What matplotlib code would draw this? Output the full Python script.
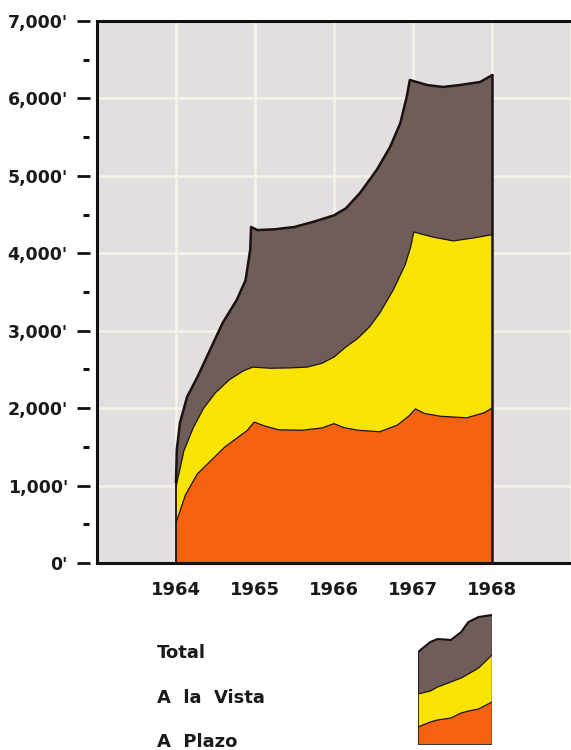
import matplotlib
matplotlib.use('Agg')
import matplotlib.pyplot as plt
import numpy as np
from matplotlib.transforms import blended_transform_factory

# ---------------- data ----------------
years = [1964, 1965, 1966, 1967, 1968]
year_labels = ['1964', '1965', '1966', '1967', '1968']
y_ticks = [0, 1000, 2000, 3000, 4000, 5000, 6000, 7000]
y_tick_labels = ["0'", "1,000'", "2,000'", "3,000'", "4,000'", "5,000'", "6,000'", "7,000'"]
y_minor = [500, 1500, 2500, 3500, 4500, 5500, 6500]

# Total (top of the brown band)
total_x = [1964.00, 1964.01, 1964.05, 1964.14, 1964.27, 1964.43, 1964.59, 1964.77,
           1964.88, 1964.94, 1964.95, 1965.03, 1965.25, 1965.50, 1965.75, 1966.00,
           1966.15, 1966.33, 1966.54, 1966.71, 1966.84, 1966.92, 1966.96, 1967.18,
           1967.38, 1967.59, 1967.85, 1968.00]
total_y = [1050, 1460, 1810, 2144, 2400, 2750, 3100, 3400,
           3650, 4050, 4340, 4300, 4310, 4340, 4410, 4490,
           4580, 4780, 5076, 5373, 5683, 6018, 6238, 6173,
           6148, 6173, 6212, 6300]

# A la Vista (stacked on A Plazo: top of the yellow band)
vista_x = [1964.00, 1964.10, 1964.22, 1964.35, 1964.50, 1964.68, 1964.85, 1964.97,
           1965.20, 1965.45, 1965.66, 1965.85, 1966.00, 1966.15, 1966.30, 1966.45,
           1966.58, 1966.75, 1966.90, 1966.97, 1967.01, 1967.25, 1967.51, 1967.76,
           1968.00]
vista_y = [980, 1450, 1750, 2000, 2200, 2370, 2480, 2530,
           2515, 2520, 2530, 2580, 2660, 2790, 2900, 3050,
           3230, 3526, 3850, 4080, 4275, 4210, 4160, 4197,
           4240]

# A Plazo (top of the orange band)
plazo_x = [1964.00, 1964.12, 1964.27, 1964.45, 1964.62, 1964.78, 1964.90, 1964.99,
           1965.12, 1965.30, 1965.60, 1965.85, 1966.00, 1966.12, 1966.30, 1966.58,
           1966.80, 1966.95, 1967.03, 1967.15, 1967.35, 1967.68, 1967.90, 1968.00]
plazo_y = [520, 880, 1150, 1330, 1500, 1620, 1710, 1820,
           1770, 1720, 1715, 1745, 1800, 1750, 1715, 1695,
           1780, 1900, 1990, 1930, 1895, 1875, 1940, 2000]

# legend swatch (miniature of the chart)
sw_x = [0, 12, 19, 32, 42, 49, 59, 72]
sw_total = [92, 102, 105, 104, 112, 122, 127, 129]
sw_vista = [50, 53, 57, 62, 66, 70, 76, 89]
sw_plazo = [17, 22, 24, 26, 31, 33, 35, 42]

legend_labels = ['Total', 'A  la  Vista', 'A  Plazo']

# ---------------- style ----------------
BG = '#e3dedf'
GRID = '#f8f2e8'
BROWN = '#6f5d59'
YELLOW = '#f9e300'
ORANGE = '#f5620f'
EDGE = '#1a1210'
FONT = dict(family='DejaVu Sans', fontweight='bold', color='#1a1a1a')

fig = plt.figure(figsize=(5.71, 7.5), dpi=100)
W, H = 571, 750
ax = fig.add_axes([97 / W, 1 - 563 / H, (W - 97) / W, (563 - 21) / H])
ax.set_facecolor(BG)
ax.set_xlim(1963, 1969)
ax.set_ylim(0, 7000)

# grid
for yv in y_ticks[1:]:
    ax.axhline(yv, color=GRID, lw=1.8, zorder=0.5)
for xv in years + [1969]:
    ax.axvline(xv, color=GRID, lw=1.8, zorder=0.5)

# stacked bands
brown_px = list(total_x) + list(vista_x[::-1])
brown_py = list(total_y) + list(vista_y[::-1])
ax.fill(brown_px, brown_py, color=BROWN, lw=0, zorder=2)
yel_px = list(vista_x) + list(plazo_x[::-1])
yel_py = list(vista_y) + list(plazo_y[::-1])
ax.fill(yel_px, yel_py, color=YELLOW, lw=0, zorder=2)
or_px = list(plazo_x) + [plazo_x[-1], plazo_x[0]]
or_py = list(plazo_y) + [0, 0]
ax.fill(or_px, or_py, color=ORANGE, lw=0, zorder=2)

# outlines
ax.plot(total_x, total_y, color=EDGE, lw=1.8, zorder=3, solid_joinstyle='round')
ax.plot(vista_x, vista_y, color=EDGE, lw=0.9, zorder=3)
ax.plot(plazo_x, plazo_y, color=EDGE, lw=0.9, zorder=3)
ax.plot([total_x[0], total_x[0]], [0, total_y[0]], color=EDGE, lw=1.3, zorder=3)
ax.plot([total_x[-1], total_x[-1]], [0, total_y[-1]], color=EDGE, lw=1.8, zorder=3)

# spines
for s in ['left', 'top', 'bottom']:
    ax.spines[s].set_linewidth(2.2)
    ax.spines[s].set_color('#111111')
    ax.spines[s].set_zorder(4)
ax.spines['right'].set_visible(False)

# ticks & labels
ax.set_xticks(years)
ax.set_xticklabels(year_labels, fontsize=13, **FONT)
ax.set_yticks(y_ticks)
ax.set_yticklabels(y_tick_labels, fontsize=12.5, **FONT)
ax.tick_params(axis='x', length=0, pad=13)
ax.tick_params(axis='y', length=0, pad=21)

# dashed tick marks detached from the axis
trans = blended_transform_factory(ax.transAxes, ax.transData)
axw = (W - 97)
for yv in y_ticks:
    ax.plot([-20 / axw, -7 / axw], [yv, yv], color='#111111', lw=2.0,
            transform=trans, clip_on=False, solid_capstyle='butt')
for yv in y_minor:
    ax.plot([-14 / axw, -8 / axw], [yv, yv], color='#111111', lw=2.2,
            transform=trans, clip_on=False, solid_capstyle='butt')

# legend texts
for lab, yc in zip(legend_labels, [653, 698, 742]):
    fig.text(157 / W, 1 - yc / H, lab, fontsize=13, va='center', ha='left', **FONT)

# legend swatch
sax = fig.add_axes([418 / W, 1 - 745 / H, 74 / W, 135 / H])
sax.set_xlim(0, 72)
sax.set_ylim(-1, 134)
sax.axis('off')
sax.fill(list(sw_x) + list(sw_x[::-1]), list(sw_total) + list(sw_vista[::-1]), color=BROWN, lw=0)
sax.fill(list(sw_x) + list(sw_x[::-1]), list(sw_vista) + list(sw_plazo[::-1]), color=YELLOW, lw=0)
sax.fill(list(sw_x) + [sw_x[-1], sw_x[0]], list(sw_plazo) + [0, 0], color=ORANGE, lw=0)
sax.plot(sw_x, sw_total, color=EDGE, lw=1.5)
sax.plot(sw_x, sw_vista, color=EDGE, lw=0.9)
sax.plot(sw_x, sw_plazo, color=EDGE, lw=0.9)
sax.plot([sw_x[-1], sw_x[-1]], [0, sw_total[-1]], color=EDGE, lw=1.0)
sax.plot([sw_x[0], sw_x[0]], [0, sw_total[0]], color=EDGE, lw=0.6)
sax.plot([sw_x[0], sw_x[-1]], [0, 0], color=EDGE, lw=0.6)

fig.savefig('out.png', dpi=100, facecolor='white')
